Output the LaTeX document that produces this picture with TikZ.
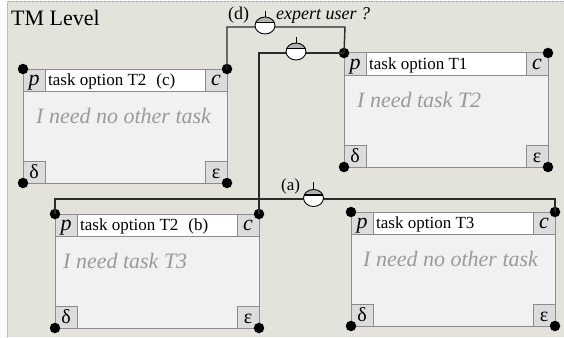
\documentclass[tikz,border=0pt]{standalone}
\usepackage{fontspec}
\setmainfont{Liberation Serif}
\usetikzlibrary{shapes.geometric}
\definecolor{panel}{HTML}{E3E2DB}
\definecolor{bodyc}{HTML}{F1F1F1}
\definecolor{cellc}{HTML}{DCDCDC}
\definecolor{edgec}{HTML}{8C8C8C}
\definecolor{softtext}{HTML}{9A9A9A}
\definecolor{wirec}{HTML}{2B2B2B}
\tikzset{
  boxline/.style={draw=edgec, line width=1pt},
  dot/.style={circle, fill=black, inner sep=0pt, minimum size=10.5pt},
  wire/.style={draw=wirec, line width=1.4pt},
  cornertxt/.style={inner sep=0pt, anchor=base, font=\fontsize{22}{24}\selectfont\itshape},
  greektxt/.style={inner sep=0pt, anchor=base, font=\fontsize{20}{22}\selectfont},
  headtxt/.style={inner sep=0pt, anchor=base west, font=\fontsize{17}{19}\selectfont},
  bodytxt/.style={inner sep=0pt, anchor=base west, text=softtext, font=\fontsize{22}{24}\selectfont\itshape},
  lbl/.style={inner sep=0pt, anchor=base west, font=\fontsize{18}{20}\selectfont},
  switchsym/.style={ellipse, draw=black, line width=0.9pt, fill=white,
    minimum width=20pt, minimum height=17pt, inner sep=0pt,
    path picture={
      \fill[gray!60] (path picture bounding box.north west) rectangle ([yshift=3pt]path picture bounding box.east);
      \draw[line width=1.3pt] ([yshift=3pt]path picture bounding box.west) -- ([yshift=3pt]path picture bounding box.east);
    }},
  tick/.style={draw=black, line width=0.9pt},
}
% #1 name, #2 x, #3 y, #4 header, #5 body, #6 body x offset
\newcommand\tmbox[6]{%
  \begin{scope}[shift={(#2,#3)}]
    \fill[bodyc] (0,0) rectangle (204,114);
    \fill[white] (22,0) rectangle (182,22);
    \filldraw[fill=cellc, boxline] (0,0) rectangle (22,22);
    \filldraw[fill=cellc, boxline] (182,0) rectangle (204,22);
    \filldraw[fill=cellc, boxline] (0,92) rectangle (22,114);
    \filldraw[fill=cellc, boxline] (182,92) rectangle (204,114);
    \draw[boxline] (0,0) rectangle (204,114);
    \draw[boxline] (0,22) -- (204,22);
    \node[cornertxt] (#1-ptxt) at (11,16.5) {p};
    \node[cornertxt] (#1-ctxt) at (193,16.5) {c};
    \node[greektxt] (#1-dtxt) at (11,109) {δ};
    \node[greektxt] (#1-etxt) at (193,109) {ε};
    \node[headtxt] (#1-head) at (25,16) {#4};
    \node[bodytxt] (#1-body) at (#6,54) {#5};
    \node[dot] (#1p) at (0,0) {};
    \node[dot] (#1c) at (204,0) {};
    \node[dot] (#1d) at (0,114) {};
    \node[dot] (#1e) at (204,114) {};
  \end{scope}%
}
\begin{document}
\begin{tikzpicture}[x=1pt, y=-1pt]
  \useasboundingbox (0,0) rectangle (564,337);
  \fill[white] (0,0) rectangle (564,337);
  \fill[panel] (7,1) rectangle (564,337);
  \draw[gray!70, densely dotted, line width=0.6pt] (7.3,337) -- (7.3,1.3) -- (564,1.3);

  \node[inner sep=0pt, anchor=base west, font=\fontsize{22}{24}\selectfont] (title) at (11,26) {TM Level};

  \tmbox{C}{23}{69}{task option T2\hspace{10pt}(c)}{I need no other task}{13}
  \tmbox{A}{344}{53}{task option T1}{I need task T2}{13}
  \tmbox{B}{55}{214}{task option T2\hspace{10pt}(b)}{I need task T3}{8}
  \tmbox{D}{351}{212}{task option T3}{I need no other task}{12}

  % wires
  \coordinate (dR) at (345,27);
  \coordinate (aL) at (55,199);
  \draw[wire] (Cc.center) |- (dR) -- (Ap.center);
  \draw[wire] (Bc.center) |- (Ap.center);
  \draw[wire] (Bp.center) -- (aL) -| (Dc.center);

  % switches
  \node[switchsym] (swd) at (265,25.5) {};
  \draw[tick] (swd.north) -- ++(0,-6);
  \node[switchsym] (swb) at (296,51.5) {};
  \draw[tick] (swb.north) -- ++(0,-6);
  \node[switchsym] (swa) at (313.5,198) {};
  \draw[tick] (swa.north) -- ++(0,-7);

  % labels
  \node[lbl] (ld) at (228,20) {(d)};
  \node[lbl, font=\fontsize{18}{20}\selectfont\itshape] (lexp) at (276,20) {expert user ?};
  \node[lbl, font=\fontsize{17}{19}\selectfont] (la) at (281,190) {(a)};
\end{tikzpicture}
\end{document}
